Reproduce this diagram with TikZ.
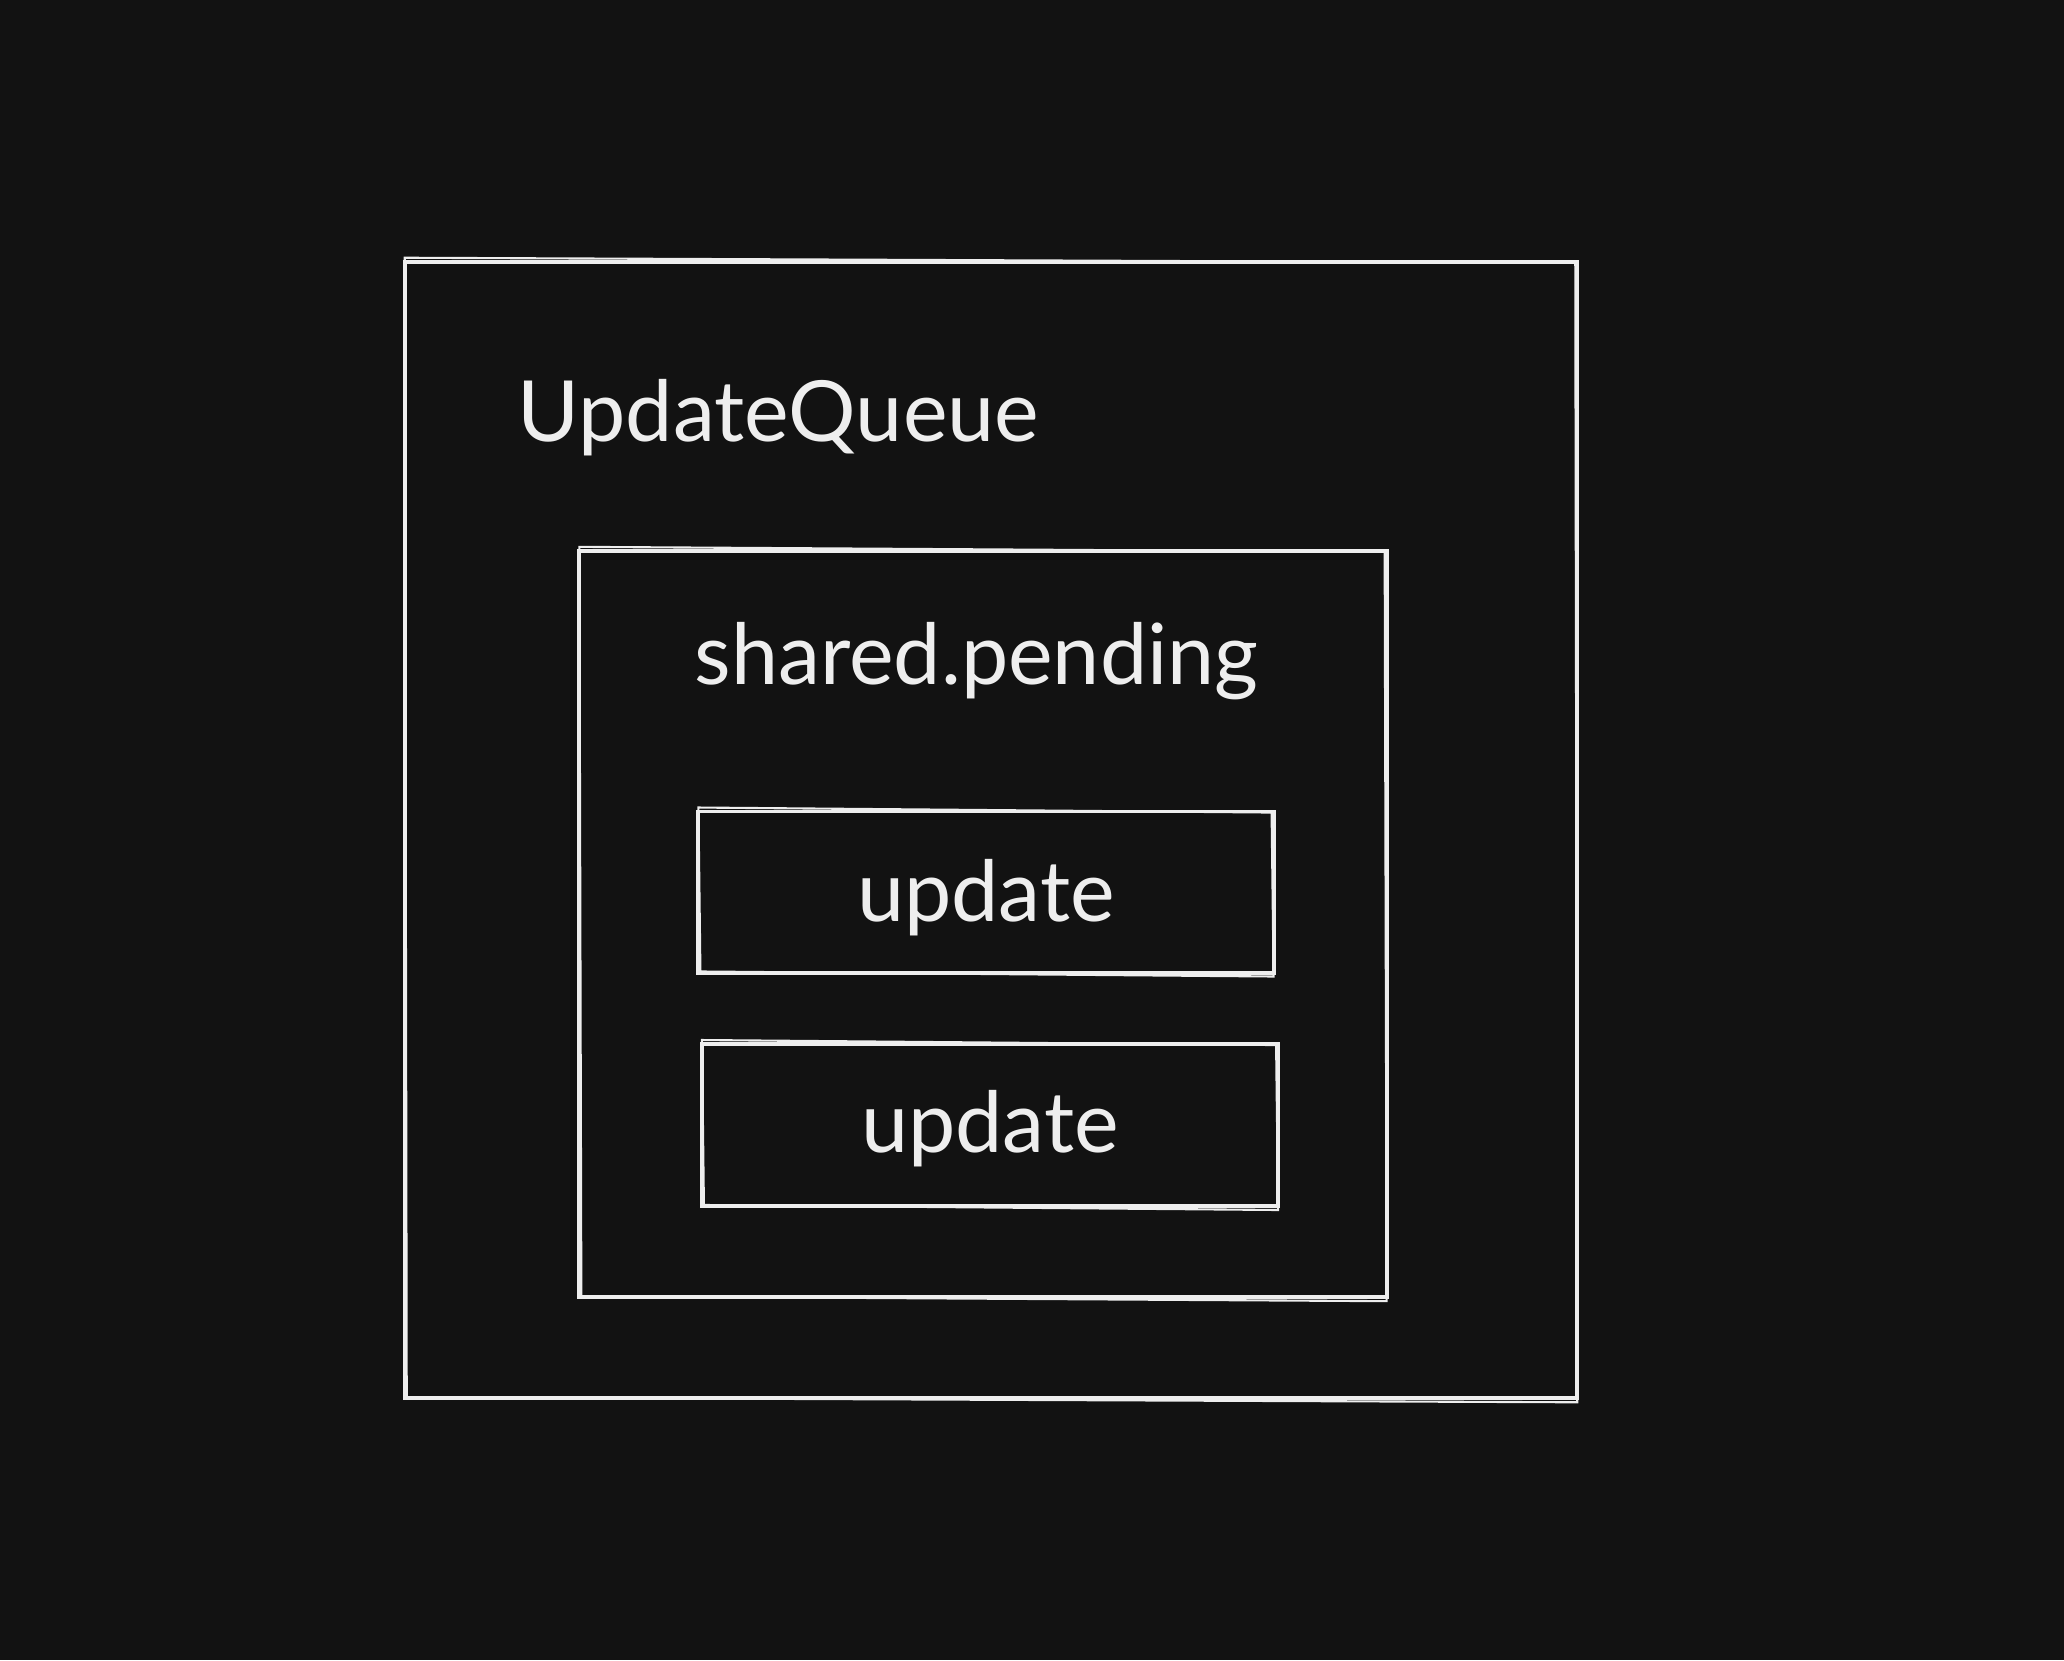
\documentclass[tikz,border=0pt]{standalone}
\usepackage{fontspec}
\setmainfont{Lato}
\usetikzlibrary{positioning}
\definecolor{bg}{HTML}{121212}
\definecolor{ink}{HTML}{EEEEEE}
\begin{document}
\begin{tikzpicture}[x=0.01cm,y=-0.01cm,
  box/.style={draw=ink, line width=1.1pt, inner sep=0pt},
  label/.style={text=ink, font=\fontsize{24}{29}\selectfont, inner sep=0pt}]
\fill[bg] (0,0) rectangle (2064,1660);
% boxes
\node[box, minimum width=11.72cm, minimum height=11.36cm] (queue) at (991,830) {};
\node[box, minimum width=8.07cm, minimum height=7.46cm] (pending) at (983,924) {};
\node[box, minimum width=5.75cm, minimum height=1.61cm] (upd1) at (986,892) {};
\node[box, minimum width=5.76cm, minimum height=1.62cm] (upd2) at (990,1125) {};
% second stroke, hand drawn look
\foreach \b in {queue,pending,upd1,upd2}
  \draw[ink, line width=0.6pt] ([shift={(4,-3)}]\b.south west) -- ([shift={(-2,2)}]\b.south east)
    -- ([shift={(-4,3)}]\b.north east) -- ([shift={(2,-2)}]\b.north west) -- cycle;
% texts
\node[label, anchor=base west] (title) at (517,441) {UpdateQueue};
\node[label, anchor=base west] (shared) at (694,684) {shared.pending};
\node[label, anchor=base] (t1) at (upd1.center |- 0,921) {update};
\node[label, anchor=base] (t2) at (upd2.center |- 0,1152) {update};
\end{tikzpicture}
\end{document}
